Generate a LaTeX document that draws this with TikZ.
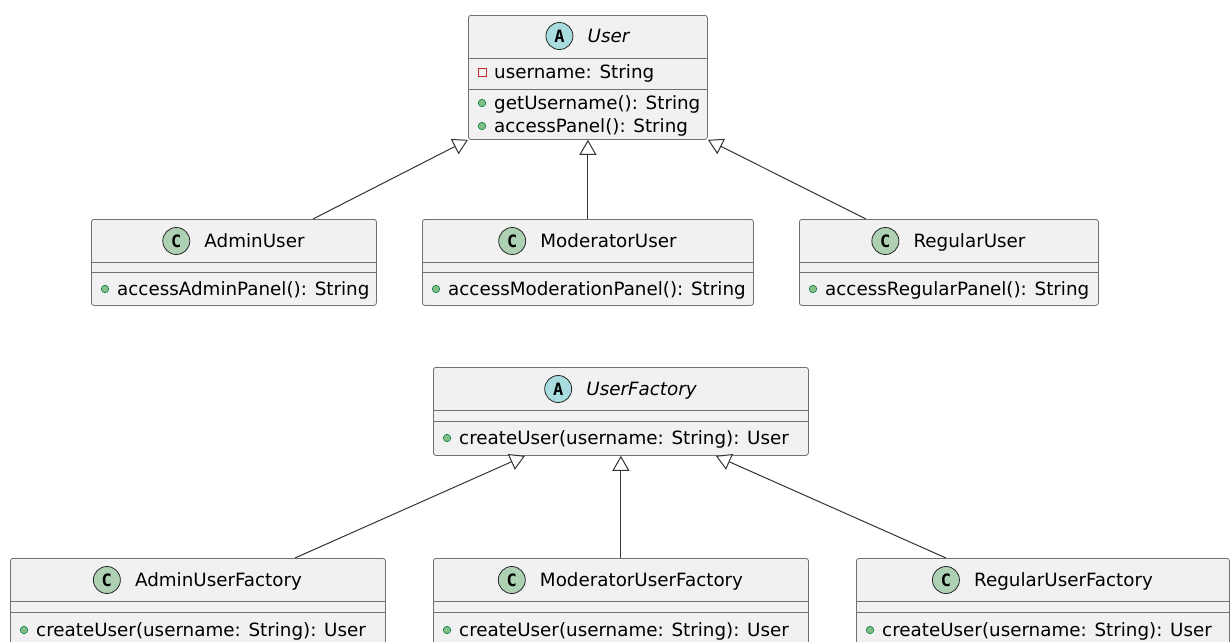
\documentclass[tikz,border=0pt]{standalone}
\usepackage{fontspec}
\setmainfont{DejaVu Sans}
\newfontfamily\iconfont{DejaVu Sans Mono}
\usetikzlibrary{arrows.meta,calc}
\definecolor{boxfill}{HTML}{F1F1F1}
\definecolor{boxline}{HTML}{707070}
\definecolor{absfill}{HTML}{A9DCDF}
\definecolor{clsfill}{HTML}{ADD1B2}
\definecolor{pubfill}{HTML}{84BE84}
\definecolor{publine}{HTML}{038048}
\definecolor{privline}{HTML}{C82930}
\definecolor{edge}{HTML}{333333}
\tikzset{
 classbox/.style={draw=boxline, fill=boxfill, line width=0.8pt, rounded corners=2.5pt, inner sep=0pt, anchor=north west},
 sep/.style={draw=boxline, line width=0.8pt},
 icon/.style={circle, draw=black!85, line width=0.8pt, minimum size=27pt, inner sep=0pt, font=\iconfont\bfseries\fontsize{17}{17}\selectfont},
 absicon/.style={icon, fill=absfill},
 clsicon/.style={icon, fill=clsfill},
 cname/.style={inner sep=0pt, text height=13.3pt, text depth=0pt, font=\fontsize{18.3}{22}\selectfont, anchor=center},
 member/.style={inner sep=0pt, text height=13.3pt, text depth=0pt, font=\fontsize{18.3}{22}\selectfont, anchor=west},
 pub/.style={circle, fill=pubfill, draw=publine, line width=0.6pt, minimum size=7.5pt, inner sep=0pt},
 priv/.style={rectangle, draw=privline, line width=0.9pt, minimum size=8pt, inner sep=0pt},
 inherit/.style={draw=edge, line width=1pt, -{Triangle[open, length=15pt, width=17pt, fill=white]}},
}
% id, x1, y1, x2, y2, sep1, sep2
\newcommand\umlbox[7]{%
 \pgfmathsetmacro\bw{#4-#2}\pgfmathsetmacro\bh{#5-#3}%
 \node[classbox, minimum width=\bw pt, minimum height=\bh pt] (#1) at (#2,#3) {};
 \draw[sep] (#2,#6) -- (#4,#6);
 \draw[sep] (#2,#7) -- (#4,#7);
}
% id, iconstyle, letter, name, centre x, centre y
\newcommand\umlhead[6]{%
 \node[cname] (#1name) at (#5+21,#6) {#4};
 \node[#2] (#1icon) at ($(#1name.west)+(-28pt,0)$) {#3};
}
% name, kind, left x, y, text
\newcommand\umlmember[5]{%
 \node[#2] (#1mark) at (#3+14,#4) {};
 \node[member] (#1) at (#3+26,#4) {#5};
}
\begin{document}
\begin{tikzpicture}[x=1pt,y=-1pt]
\path[use as bounding box] (0,0) rectangle (1231,641);
\clip (0,0) rectangle (1231,641);

% User
\umlbox{User}{468}{15}{707}{139}{58}{89}
\umlhead{User}{absicon}{A}{\itshape User}{587.5}{36}
\umlmember{Ufield}{priv}{468}{72}{username: String}
\umlmember{Um1}{pub}{468}{103}{getUsername(): String}
\umlmember{Um2}{pub}{468}{126}{accessPanel(): String}

% AdminUser
\umlbox{AdminUser}{91}{219}{376}{305}{262}{272}
\umlhead{AdminUser}{clsicon}{C}{AdminUser}{233.5}{241}
\umlmember{AUm}{pub}{91}{289}{accessAdminPanel(): String}

% ModeratorUser
\umlbox{ModeratorUser}{422}{219}{753}{305}{262}{272}
\umlhead{ModeratorUser}{clsicon}{C}{ModeratorUser}{587.5}{241}
\umlmember{MUm}{pub}{422}{289}{accessModerationPanel(): String}

% RegularUser
\umlbox{RegularUser}{799}{219}{1098}{305}{262}{272}
\umlhead{RegularUser}{clsicon}{C}{RegularUser}{948.5}{241}
\umlmember{RUm}{pub}{799}{289}{accessRegularPanel(): String}

% UserFactory
\umlbox{UserFactory}{433}{367}{808}{455}{410}{421}
\umlhead{UserFactory}{absicon}{A}{\itshape UserFactory}{620.5}{389}
\umlmember{UFm}{pub}{433}{438}{createUser(username: String): User}

% AdminUserFactory
\umlbox{AdminUserFactory}{10}{558}{385}{700}{601}{612}
\umlhead{AdminUserFactory}{clsicon}{C}{AdminUserFactory}{197.5}{580}
\umlmember{AUFm}{pub}{10}{630}{createUser(username: String): User}

% ModeratorUserFactory
\umlbox{ModeratorUserFactory}{433}{558}{808}{700}{601}{612}
\umlhead{ModeratorUserFactory}{clsicon}{C}{ModeratorUserFactory}{620.5}{580}
\umlmember{MUFm}{pub}{433}{630}{createUser(username: String): User}

% RegularUserFactory
\umlbox{RegularUserFactory}{856}{558}{1229}{700}{601}{612}
\umlhead{RegularUserFactory}{clsicon}{C}{RegularUserFactory}{1042.5}{580}
\umlmember{RUFm}{pub}{856}{630}{createUser(username: String): User}

% inheritance
\draw[inherit] ([xshift=222pt]AdminUser.north west) -- (User.south west);
\draw[inherit] (ModeratorUser.north) -- (User.south);
\draw[inherit] ([xshift=67pt]RegularUser.north west) -- (User.south east);
\draw[inherit] ([xshift=285pt]AdminUserFactory.north west) -- ([xshift=92pt]UserFactory.south west);
\draw[inherit] (ModeratorUserFactory.north) -- (UserFactory.south);
\draw[inherit] ([xshift=90pt]RegularUserFactory.north west) -- ([xshift=-93pt]UserFactory.south east);
\end{tikzpicture}
\end{document}
